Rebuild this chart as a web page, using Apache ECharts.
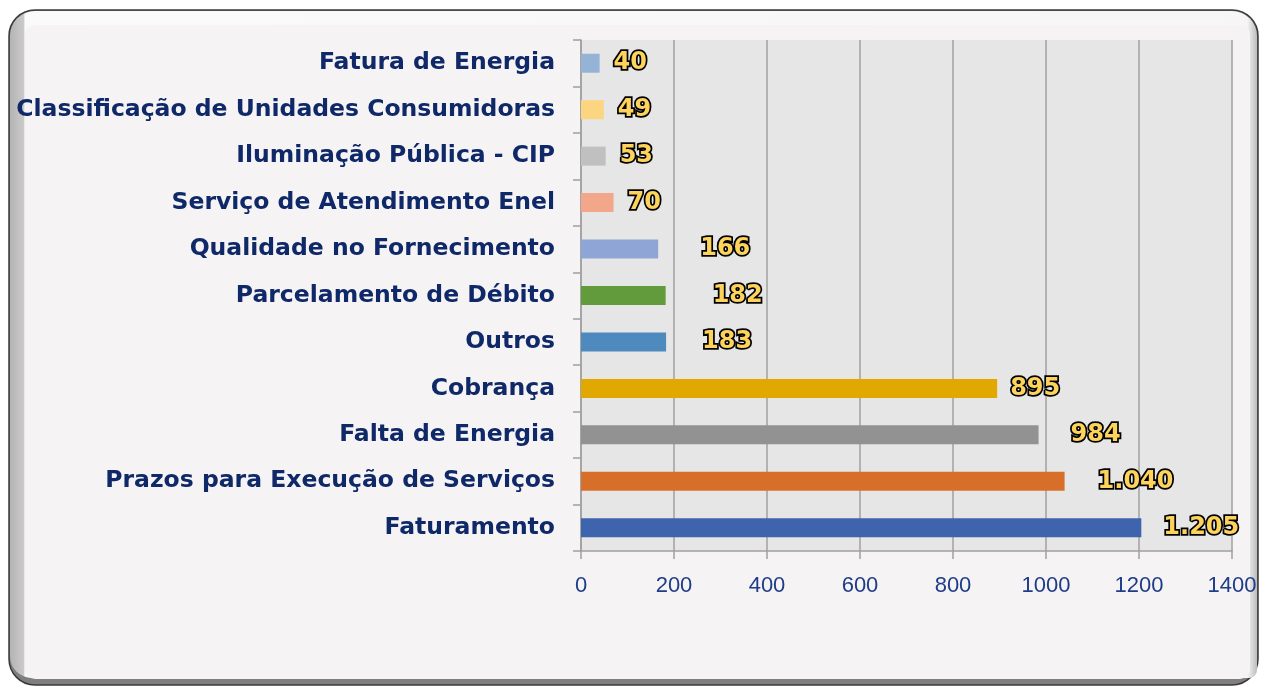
<!DOCTYPE html>
<html>
<head>
<meta charset="utf-8">
<script src="https://cdn.jsdelivr.net/npm/echarts@6/dist/echarts.min.js"></script>
<style>
  html, body { margin: 0; padding: 0; background: #fff; }
  #chart { width: 1261px; height: 686px; }
</style>
</head>
<body>
<div id="chart"></div>
<script>
// categories, top to bottom
const categories = [
  'Fatura de Energia',
  'Classificação de Unidades Consumidoras',
  'Iluminação Pública - CIP',
  'Serviço de Atendimento Enel',
  'Qualidade no Fornecimento',
  'Parcelamento de Débito',
  'Outros',
  'Cobrança',
  'Falta de Energia',
  'Prazos para Execução de Serviços',
  'Faturamento'
]
const values = [40, 49, 53, 70, 166, 182, 183, 895, 984, 1040, 1205]
const xTicks = [0, 200, 400, 600, 800, 1000, 1200, 1400]

// bar colours and label gaps (style only)
const barColors = ['#95b3d7', '#fcd581', '#c0c0c0', '#f2a68a', '#8ea5d6', '#629b3c',
  '#4f8abe', '#e0a800', '#929292', '#d76f2b', '#3e64ad']
const labelGaps = [14, 14, 14, 14, 42, 47, 36, 13, 32, 33, 22]

const fmt = v => v.toLocaleString('de-DE')

const chart = echarts.init(document.getElementById('chart'))

const option = {
  backgroundColor: '#ffffff',
  animation: false,
  graphic: [
    // frame
    {
      type: 'rect', z: -10, silent: true,
      shape: { x: 9, y: 10, width: 1249, height: 675, r: 26 },
      style: { fill: '#7f7f7f', stroke: '#3a3a3a', lineWidth: 1.5 }
    },
    {
      type: 'rect', z: -9, silent: true,
      shape: { x: 10, y: 11, width: 1247, height: 667, r: [25, 25, 8, 22] },
      style: {
        fill: new echarts.graphic.LinearGradient(0, 0, 1, 0, [
          { offset: 0, color: '#b4b4b4' },
          { offset: 0.011, color: '#cacaca' },
          { offset: 0.012, color: '#fafafa' },
          { offset: 0.992, color: '#f6f6f6' },
          { offset: 1, color: '#bcbcbc' }
        ])
      }
    },
    {
      type: 'rect', z: -8, silent: true,
      shape: { x: 25, y: 25, width: 1225, height: 654, r: 10 },
      style: { fill: '#f5f3f4' }
    }
  ],
  grid: {
    left: 581, right: 29, top: 40, bottom: 135,
    show: true, backgroundColor: '#e6e6e6', borderWidth: 0
  },
  xAxis: {
    type: 'value',
    min: xTicks[0],
    max: xTicks[xTicks.length - 1],
    interval: 200,
    axisLine: { show: true, lineStyle: { color: '#a0a0a0', width: 1.5 } },
    axisTick: { show: true, length: 8, lineStyle: { color: '#a0a0a0', width: 1.5 } },
    splitLine: { show: true, lineStyle: { color: '#a0a0a0', width: 1.5 } },
    axisLabel: {
      margin: 24,
      color: '#1f3c88',
      fontSize: 22,
      fontFamily: 'Liberation Sans, Arial, sans-serif',
      formatter: v => String(v)
    }
  },
  yAxis: {
    type: 'category',
    inverse: true,
    data: categories,
    axisLine: { show: true, lineStyle: { color: '#a0a0a0', width: 1.5 } },
    axisTick: { show: true, length: 8, lineStyle: { color: '#a0a0a0', width: 1.5 } },
    axisLabel: {
      margin: 26,
      color: '#0f2868',
      fontSize: 23.5,
      fontWeight: 'bold',
      fontFamily: 'DejaVu Sans, Verdana, sans-serif'
    }
  },
  series: [
    {
      type: 'bar',
      barWidth: 19,
      data: values.map((v, i) => ({
        value: v,
        itemStyle: { color: barColors[i] },
        label: { distance: labelGaps[i] }
      })),
      label: {
        show: true,
        position: 'right',
        formatter: p => fmt(p.value),
        color: '#fdd35c',
        fontSize: 24,
        fontWeight: 'bold',
        fontFamily: 'DejaVu Sans, Verdana, sans-serif',
        textBorderColor: '#000',
        textBorderWidth: 3.5
      }
    }
  ]
}

chart.setOption(option)
</script>
</body>
</html>
